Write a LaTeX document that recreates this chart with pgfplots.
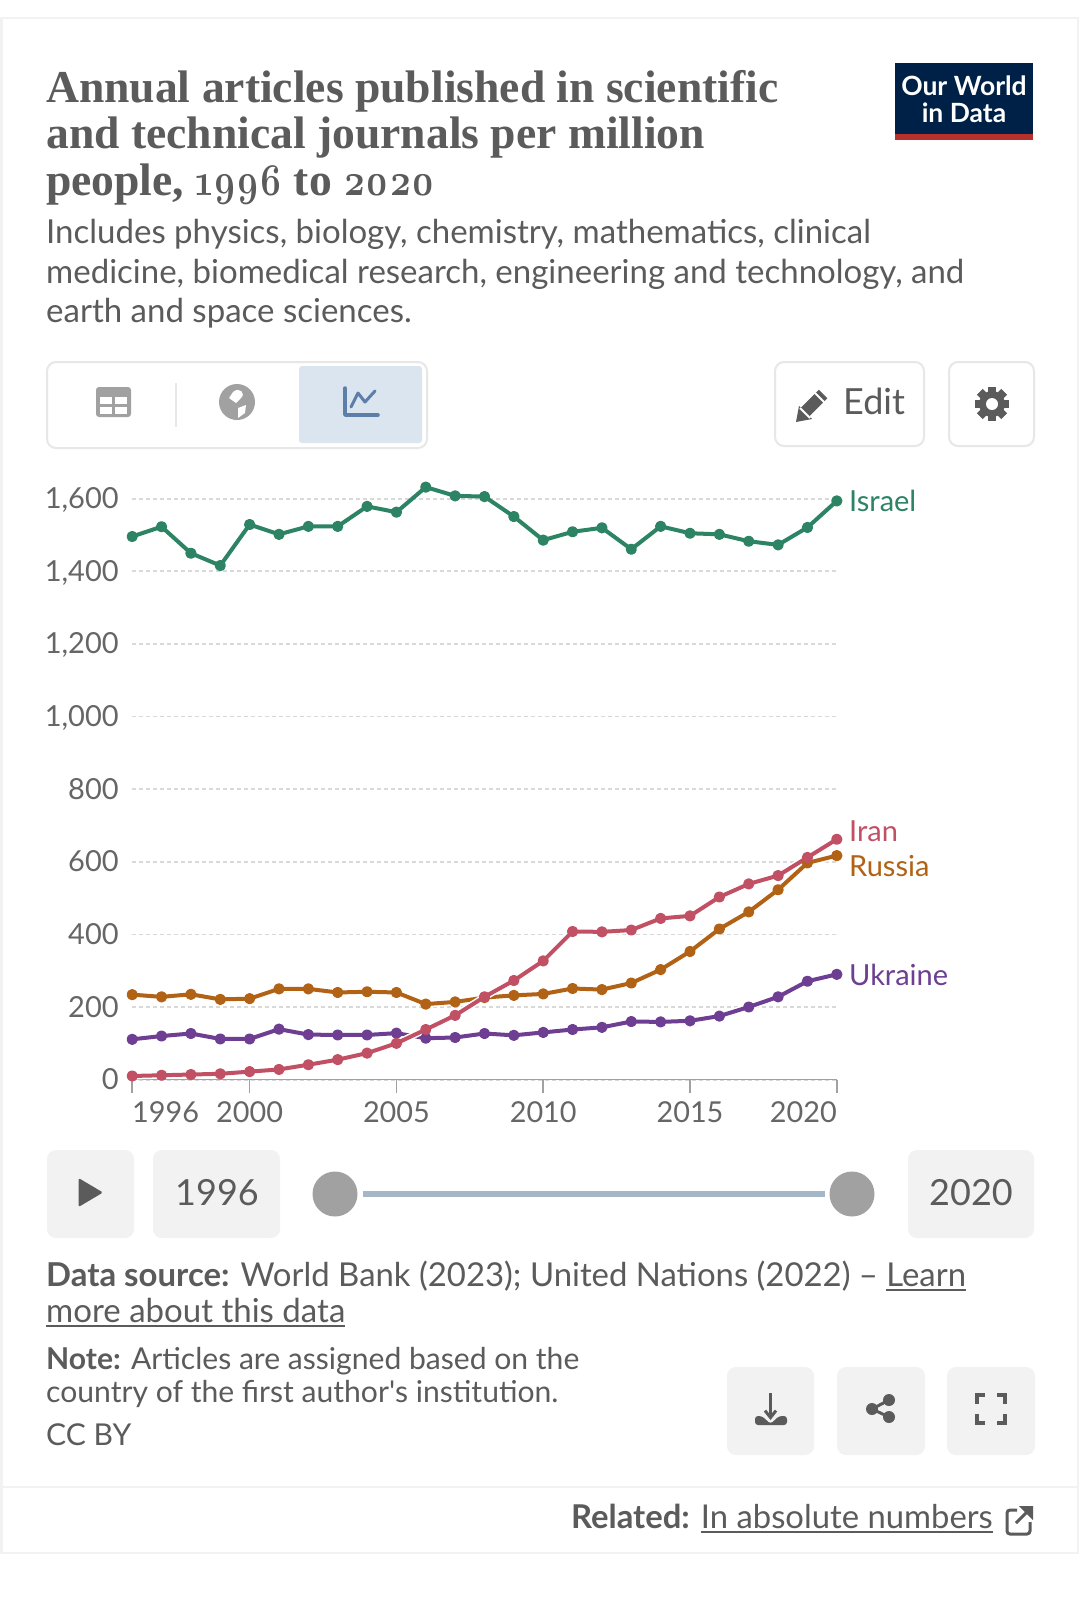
\documentclass[border=0pt]{standalone}
\usepackage{fontspec}
\usepackage{pgfplots}
\usepackage{pgfplotstable}
\usetikzlibrary{arrows.meta}
\pgfplotsset{compat=1.18}
\setmainfont{Lato}
\newfontfamily\plainlato{Lato}
\newfontfamily\titlefont{Liberation Serif}
\newfontfamily\osfont[Numbers=OldStyle,FakeStretch=0.8]{Latin Modern Roman}
\definecolor{txt}{HTML}{5B5B5B}
\definecolor{tick}{HTML}{666666}
\definecolor{israel}{HTML}{2C8465}
\definecolor{iran}{HTML}{C15065}
\definecolor{russia}{HTML}{B16214}
\definecolor{ukraine}{HTML}{6D3E91}
\definecolor{btn}{HTML}{F2F2F2}
\definecolor{edge}{HTML}{E7E7E7}
\definecolor{gridc}{HTML}{D9D9D9}
\definecolor{icon}{HTML}{A1A1A1}
\definecolor{navy}{HTML}{002147}
\definecolor{owidred}{HTML}{B8302B}
\definecolor{sel}{HTML}{DBE5F0}
\definecolor{chartblue}{HTML}{5B7FA8}
\definecolor{slider}{HTML}{A4B6C8}
\pgfplotstableread{
year israel russia iran ukraine
1996 1496 234 10 111
1997 1523 228 12 120
1998 1450 235 14 127
1999 1416 221 16 112
2000 1529 223 22 112
2001 1502 250 28 139
2002 1524 250 41 124
2003 1524 240 55 123
2004 1579 242 73 123
2005 1563 240 100 128
2006 1632 208 138 114
2007 1608 214 177 116
2008 1606 226 228 127
2009 1551 232 273 122
2010 1486 236 327 130
2011 1509 251 408 138
2012 1520 248 407 144
2013 1461 266 412 160
2014 1524 303 444 159
2015 1505 353 451 162
2016 1502 415 503 175
2017 1483 462 539 200
2018 1473 523 562 228
2019 1521 597 612 271
2020 1594 617 662 290
}\arts
\newcommand{\ul}[1]{\setbox0\hbox{#1}\rlap{\raisebox{-5pt}{\rule{\wd0}{2pt}}}\copy0}
\newcommand{\btnbox}[4]{\fill[btn,rounded corners=9pt] (#1,#2) rectangle (#3,#4);}
\newcommand{\outbox}[4]{\draw[edge,line width=2pt,rounded corners=9pt] (#1,#2) rectangle (#3,#4);}
\begin{document}
\begin{tikzpicture}
\useasboundingbox (0pt,0pt) rectangle (1080pt,-1607pt);
\fill[white] (0pt,0pt) rectangle (1080pt,-1607pt);
\begin{scope}[x=1pt,y=-1pt,every node/.style={inner sep=0pt,text=txt}]
% card outline
\draw[btn,line width=2.5pt] (1.5,18) rectangle (1078,1553);
\draw[btn,line width=2.5pt] (1.5,1487) -- (1078,1487);
% title
\node[anchor=base west] at (46,102) {\titlefont\bfseries\fontsize{45.6}{50}\selectfont Annual articles published in scientific};
\node[anchor=base west] at (46,148) {\titlefont\bfseries\fontsize{45.6}{50}\selectfont and technical journals per million};
\node[anchor=base west] at (46,195.5) {\titlefont\bfseries\fontsize{45.6}{50}\selectfont people, {\osfont 1996} to {\osfont 2020}};
% subtitle
\node[anchor=base west] at (46,243) {\fontsize{33}{39}\selectfont Includes physics, biology, chemistry, mathematics, clinical};
\node[anchor=base west] at (46,283) {\fontsize{33}{39}\selectfont medicine, biomedical research, engineering and technology, and};
\node[anchor=base west] at (46,322) {\fontsize{33}{39}\selectfont earth and space sciences.};
% logo
\fill[navy] (895,63) rectangle (1033,140);
\fill[owidred] (895,134) rectangle (1033,140);
\node[anchor=base,text=white] at (964,95) {\fontsize{26.5}{30}\selectfont\bfseries Our World};
\node[anchor=base,text=white] at (964,122) {\fontsize{26.5}{30}\selectfont\bfseries in Data};
% tab buttons
\outbox{47}{362}{427}{448}
\fill[sel,rounded corners=3pt] (299,366) rectangle (422,443);
\draw[edge,line width=2pt] (176,383) -- (176,427);
\fill[icon,rounded corners=3pt] (96,387) rectangle (131,417);
\fill[white] (100,397) rectangle (112,404);
\fill[white] (115,397) rectangle (127,404);
\fill[white] (100,407) rectangle (112,414);
\fill[white] (115,407) rectangle (127,414);
\fill[icon] (237,402) circle (18);
\fill[white] (233,392) .. controls (240,386) and (246,394) .. (241,398) -- (236,403) -- (229,398) -- cycle;
\fill[white] (238,408) -- (246,405) -- (245,413) -- (238,418) -- cycle;
\draw[chartblue,line width=3.5pt,line cap=round,line join=round] (345,388) -- (345,415) -- (378,415);
\draw[chartblue,line width=3pt,line cap=round,line join=round] (351,407) -- (358,393) -- (365,402) -- (375,391);
% edit and settings
\outbox{775}{362}{924}{446}
\outbox{949}{362}{1034}{446}
\node[anchor=base west] at (843,414) {\fontsize{36}{40}\selectfont Edit};
\draw[txt,line width=12pt] (805,412) -- (823,394);
\fill[txt] (796,422) -- (799,406) -- (812,419) -- cycle;
\draw[white,line width=1.8pt] (800,408) -- (810,418);
\draw[white,line width=1.8pt] (815,393) -- (825,403);
\foreach \a in {0,45,...,315} {\fill[txt,rotate around={\a:(992,404)}] (988,387) rectangle (996,421);}
\fill[txt] (992,404) circle (13);
\fill[white] (992,404) circle (6);
% timeline
\btnbox{47}{1150}{134}{1238}
\btnbox{153}{1150}{280}{1238}
\btnbox{908}{1150}{1034}{1238}
\fill[txt,rounded corners=1.5pt] (78.5,1178) -- (103,1192.5) -- (78.5,1207) -- cycle;
\node[anchor=base] at (217,1205) {\fontsize{36}{40}\selectfont 1996};
\node[anchor=base] at (971,1205) {\fontsize{36}{40}\selectfont 2020};
\fill[slider] (363,1191) rectangle (825,1197);
\fill[icon] (335,1194) circle (22.5);
\fill[icon] (852,1194) circle (22.5);
% footer
\node[anchor=base west] at (46,1286) {\fontsize{32.9}{36}\selectfont \textbf{Data source:} World Bank (2023); United Nations (2022) -- \ul{Learn}};
\node[anchor=base west] at (46,1322) {\fontsize{33}{36}\selectfont \ul{more about this data}};
\node[anchor=base west] at (46,1369) {\fontsize{30.1}{34}\selectfont \textbf{Note:} Articles are assigned based on the};
\node[anchor=base west] at (46,1402) {\fontsize{30.1}{34}\selectfont country of the first author{\plainlato'}s institution.};
\node[anchor=base west] at (46,1445) {\fontsize{30.1}{34}\selectfont CC BY};
\btnbox{727}{1367}{814}{1455}
\btnbox{837}{1367}{925}{1455}
\btnbox{947}{1367}{1035}{1455}
% download
\draw[txt,line width=3pt,-{Straight Barb[length=7pt,width=11pt]}] (770.5,1393) -- (770.5,1420);
\fill[txt,rounded corners=3pt] (755,1416) -- (762,1416) -- (770.5,1424) -- (779,1416) -- (787,1416) -- (787,1425) -- (755,1425) -- cycle;
% share
\draw[txt,line width=3pt] (889,1400) -- (872,1409) -- (889,1417);
\fill[txt] (889,1400) circle (6);
\fill[txt] (872,1409) circle (6);
\fill[txt] (889,1417) circle (6);
% fullscreen
\draw[txt,line width=4pt] (977,1404) -- (977,1395) -- (985,1395);
\draw[txt,line width=4pt] (997,1395) -- (1005,1395) -- (1005,1404);
\draw[txt,line width=4pt] (977,1414) -- (977,1423) -- (985,1423);
\draw[txt,line width=4pt] (997,1423) -- (1005,1423) -- (1005,1414);
% related
\node[anchor=base east] at (993,1528) {\fontsize{32.8}{36}\selectfont \textbf{Related:} \ul{In absolute numbers}};
\draw[txt,line width=3pt,rounded corners=3pt] (1017,1510) -- (1007,1510) -- (1007,1534) -- (1030,1534) -- (1030,1522);
\draw[txt,line width=3pt] (1016,1523) -- (1031,1508);
\fill[txt] (1019,1506) -- (1033,1506) -- (1033,1520) -- cycle;
% end labels
\node[anchor=base west,text=israel] at (849,511) {\fontsize{29}{32}\selectfont Israel};
\node[anchor=base west,text=iran] at (849,841) {\fontsize{29}{32}\selectfont Iran};
\node[anchor=base west,text=russia] at (849,876) {\fontsize{29}{32}\selectfont Russia};
\node[anchor=base west,text=ukraine] at (849,985) {\fontsize{29}{32}\selectfont Ukraine};
\end{scope}
\begin{axis}[
  at={(132.2pt,-1079.6pt)}, anchor=origin,
  scale only axis, width=704.6pt, height=599pt,
  xmin=1996, xmax=2020, ymin=0, ymax=1650,
  clip=false,
  axis x line=bottom, axis y line=left,
  axis line style={-},
  x axis line style={draw=icon,line width=1.5pt},
  y axis line style={draw=none},
  xtick={1996,2000,2005,2010,2015,2020},
  xticklabels={\rlap{1996},2000,2005,2010,2015,\llap{2020}},
  ytick={0,200,...,1600},
  ymajorgrids,
  grid style={draw=gridc,line width=1.8pt,dash pattern=on 4pt off 3pt},
  xtick style={draw=icon,line width=1.5pt},
  ytick style={draw=none},
  major tick length=13pt,
  tick align=outside,
  every tick label/.append style={text=tick},
  xticklabel style={font=\fontsize{28.8}{32}\selectfont,anchor=base,yshift=-30pt},
  yticklabel style={font=\fontsize{29}{32}\selectfont,anchor=base east,xshift=3pt,yshift=-10pt},
  /pgf/number format/assume math mode=true,
  /pgf/number format/1000 sep={,},
  scaled y ticks=false,
  every axis plot/.append style={line width=4pt,line join=round,mark size=3.6pt,mark options={solid}},
]
\addplot[israel,mark=*] table[x=year,y=israel] {\arts};
\addplot[white,line width=7pt] table[x=year,y=ukraine] {\arts};
\addplot[ukraine,mark=*] table[x=year,y=ukraine] {\arts};
\addplot[white,line width=7pt] table[x=year,y=russia] {\arts};
\addplot[russia,mark=*] table[x=year,y=russia] {\arts};
\addplot[white,line width=7pt] table[x=year,y=iran] {\arts};
\addplot[iran,mark=*] table[x=year,y=iran] {\arts};
\end{axis}
\end{tikzpicture}
\end{document}
